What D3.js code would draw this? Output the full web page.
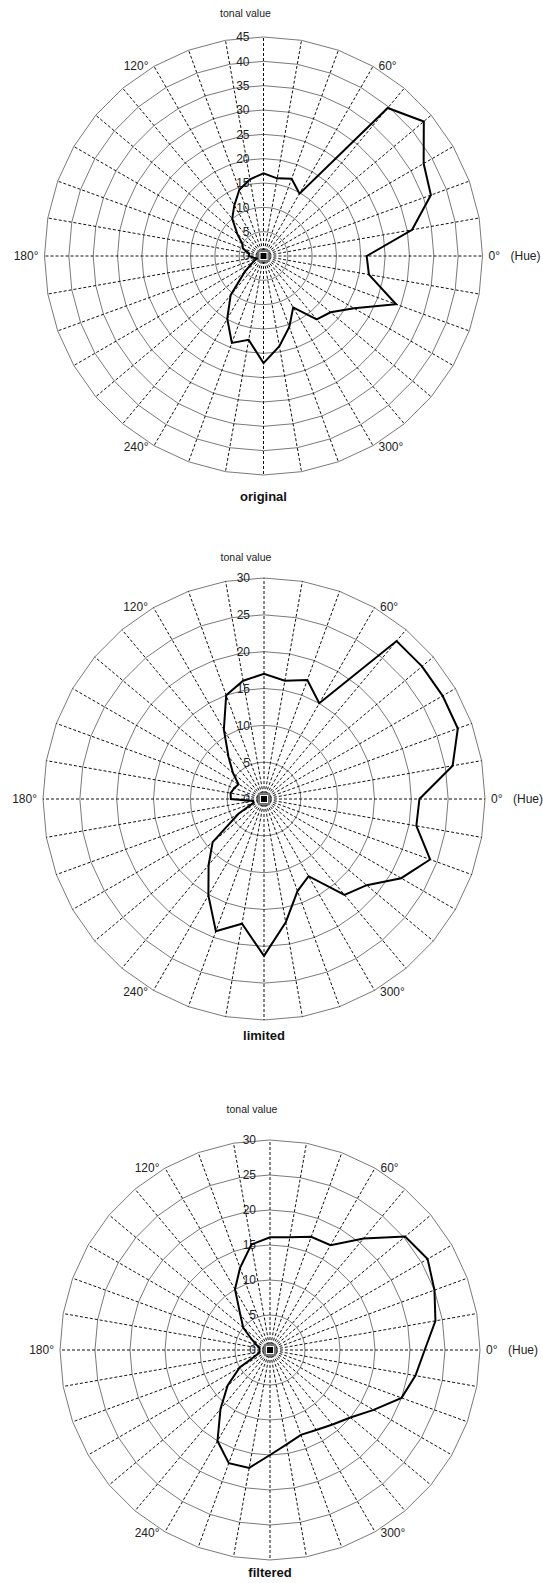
<!DOCTYPE html>
<html>
<head>
<meta charset="utf-8">
<script src="https://cdn.jsdelivr.net/npm/d3@7"></script>
<style>
body { margin: 0; background: #fff; }
text { font-family: Arial, "Liberation Sans", sans-serif; }
</style>
</head>
<body>
<div id="chart"></div>
<script>
// hue angle of every spoke / data point
var hueAngles = [0, 10, 20, 30, 40, 50, 60, 70, 80, 90, 100, 110, 120, 130, 140, 150, 160, 170,
	180, 190, 200, 210, 220, 230, 240, 250, 260, 270, 280, 290, 300, 310, 320, 330, 340, 350]

var angleLabels = [0, 60, 120, 180, 240, 300]

var originalTicks = [0, 5, 10, 15, 20, 25, 30, 35, 40, 45]
var limitedTicks  = [0, 5, 10, 15, 20, 25, 30]
var filteredTicks = [0, 5, 10, 15, 20, 25, 30]

var originalValues = [21.2, 31, 36.6, 38, 43, 39.7, 14.8, 16.9, 16.2, 17,
	16, 14.5, 12, 10, 7, 5, 4.5, 3, 3, 2, 1.5, 2.5, 5, 10.5, 14.9, 19, 17.5,
	22, 18.8, 15.5, 12.2, 17, 18, 21.5, 29, 22]

var limitedValues = [21.1, 26, 28, 28, 28, 28, 15, 17.2, 16.3, 17,
	16.3, 15, 10.9, 7.5, 5.5, 4, 4.3, 4.6, 4.5, 1.5, 1.5, 4, 9.1, 11.7, 15.1, 19.1, 17.2,
	21.3, 17, 13.3, 12.1, 17, 18.2, 21.5, 24, 21]

var filteredValues = [22.1, 24, 25, 26, 25.2, 20.8, 17.3, 17.2, 16.35, 16.1,
	15.3, 12.5, 10, 6.6, 5, 3, 2, 1.5, 1.5, 1.5, 2, 5, 7.9, 11, 15, 17.2, 17.1,
	15, 13.7, 12.9, 13.2, 13.9, 15, 17.1, 20, 21.1]

var charts = [
	{ name: 'original', values: originalValues, ticks: originalTicks, cx: 263.5, cy: 256,  R: 219, topY: 17,   titleY: 501 },
	{ name: 'limited',  values: limitedValues,  ticks: limitedTicks,  cx: 264,   cy: 799,  R: 221, topY: 561,  titleY: 1040 },
	{ name: 'filtered', values: filteredValues, ticks: filteredTicks, cx: 270,   cy: 1350, R: 210, topY: 1113, titleY: 1577 }
]

var svg = d3.select('#chart').append('svg')
	.attr('width', 543)
	.attr('height', 1583)

svg.append('rect').attr('width', 543).attr('height', 1583).attr('fill', '#fff')

function rad(a) { return (90 - a) * Math.PI / 180 }

function drawPolar(c)
{
	var maxV = c.ticks[c.ticks.length - 1]
	var r = d3.scaleLinear().domain([0, maxV]).range([0, c.R])

	var g = svg.append('g').attr('transform', 'translate(' + c.cx + ',' + c.cy + ')')

	// rings are 36-gons
	var ring = d3.lineRadial()
		.angle(function(d) { return rad(d) })
		.curve(d3.curveLinearClosed)

	g.selectAll('.ring')
		.data(c.ticks.slice(1))
		.enter()
		.append('path')
		.attr('class', 'ring')
		.attr('d', function(t) { return ring.radius(r(t))(hueAngles) })
		.attr('fill', 'none')
		.attr('stroke', '#7a7a7a')
		.attr('stroke-width', 1)

	g.selectAll('.spoke')
		.data(hueAngles)
		.enter()
		.append('line')
		.attr('class', 'spoke')
		.attr('x1', 0).attr('y1', 0)
		.attr('x2', function(a) { return r(maxV) * Math.cos(a * Math.PI / 180) })
		.attr('y2', function(a) { return -r(maxV) * Math.sin(a * Math.PI / 180) })
		.attr('stroke', '#111')
		.attr('stroke-width', 1)
		.attr('stroke-dasharray', '3,2')

	// centre marker
	g.append('rect').attr('x', -5).attr('y', -5).attr('width', 10).attr('height', 10)
		.attr('fill', '#fff').attr('stroke', '#777').attr('stroke-width', 2)
	g.append('rect').attr('x', -3).attr('y', -3).attr('width', 6).attr('height', 6)
		.attr('fill', '#000')

	// tick labels on the vertical axis
	g.selectAll('.tick')
		.data(c.ticks)
		.enter()
		.append('text')
		.attr('class', 'tick')
		.attr('x', -14)
		.attr('y', function(t) { return -r(t) })
		.attr('dy', '0.36em')
		.attr('text-anchor', 'end')
		.attr('font-size', 12)
		.attr('fill', '#222')
		.text(function(t) { return t })

	var line = d3.lineRadial()
		.angle(function(d, i) { return rad(hueAngles[i]) })
		.radius(function(d) { return r(d) })
		.curve(d3.curveLinearClosed)

	g.append('path')
		.datum(c.values)
		.attr('d', line)
		.attr('fill', 'none')
		.attr('stroke', '#000')
		.attr('stroke-width', 2)
		.attr('stroke-linejoin', 'miter')

	var lr = c.R + 1
	g.selectAll('.alabel')
		.data(angleLabels)
		.enter()
		.append('text')
		.attr('class', 'alabel')
		.attr('x', function(a) {
			let co = Math.cos(a * Math.PI / 180)
			return lr * co + (co > 0.01 ? 5 : -5)
		})
		.attr('y', function(a) { return -lr * Math.sin(a * Math.PI / 180) })
		.attr('dy', '0.36em')
		.attr('text-anchor', function(a) {
			return Math.cos(a * Math.PI / 180) > 0.01 ? 'start' : 'end'
		})
		.attr('font-size', 12)
		.attr('fill', '#222')
		.text(function(a) { return a + '\u00b0' })

	g.append('text')
		.attr('x', c.R + 28)
		.attr('y', 0)
		.attr('dy', '0.36em')
		.attr('font-size', 12)
		.attr('fill', '#222')
		.text('(Hue)')

	svg.append('text')
		.attr('x', c.cx - 18)
		.attr('y', c.topY)
		.attr('text-anchor', 'middle')
		.attr('font-size', 10.5)
		.attr('fill', '#222')
		.text('tonal value')

	svg.append('text')
		.attr('x', c.cx)
		.attr('y', c.titleY)
		.attr('text-anchor', 'middle')
		.attr('font-size', 13)
		.attr('font-weight', 'bold')
		.attr('fill', '#111')
		.text(c.name)
}

charts.forEach(drawPolar)
</script>
</body>
</html>
